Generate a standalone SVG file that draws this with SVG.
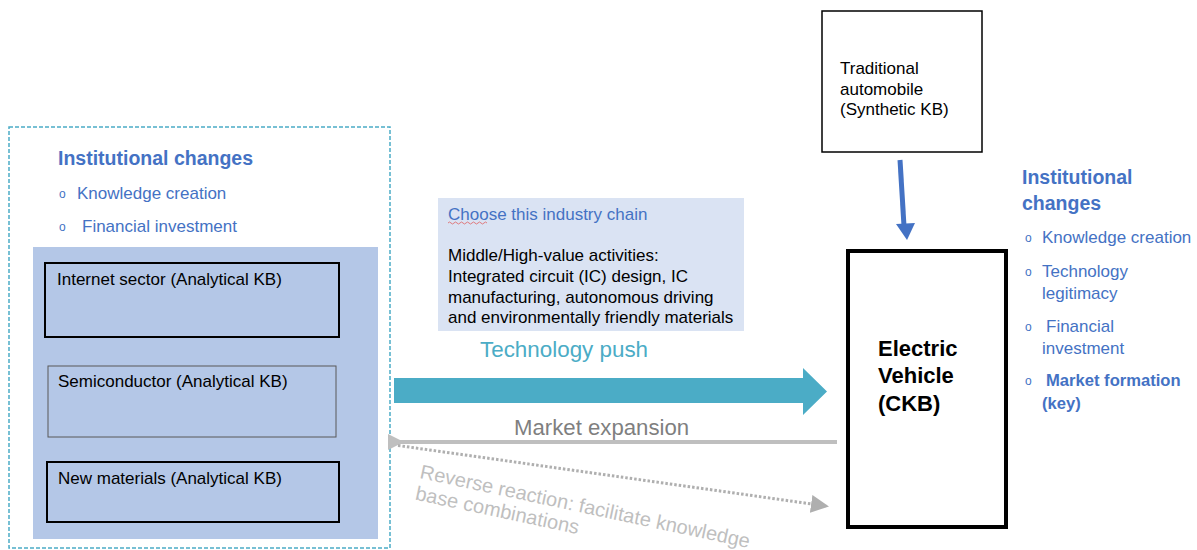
<svg xmlns="http://www.w3.org/2000/svg" width="1197" height="550" viewBox="0 0 1197 550">
<defs>
<style>
text{font-family:"Liberation Sans",Arial,sans-serif;}
.blue{fill:#4472C4;}
.h{font-size:19.5px;font-weight:bold;}
.b{font-size:17px;}
.t{font-size:17px;fill:#000;}
.bul{font-size:12px;fill:#4472C4;}
.box{fill:none;stroke:#000;stroke-width:2;}
</style>
<marker id="ahGray" markerWidth="6" markerHeight="6" refX="5" refY="3" orient="auto" markerUnits="strokeWidth">
<path d="M0,0 L6,3 L0,6 z" fill="#AFAFAF"/>
</marker>
<marker id="ahGrayL" markerWidth="4" markerHeight="4" refX="1" refY="2" orient="auto" markerUnits="strokeWidth">
<path d="M4,0 L0,2 L4,4 z" fill="#BFBFBF"/>
</marker>
</defs>
<rect width="1197" height="550" fill="#fff"/>

<g id="left-container">
<rect x="9" y="127" width="381" height="421" fill="none" stroke="#4BACC6" stroke-width="1.5" stroke-dasharray="4,2"/>
<text x="58" y="165" class="blue h">Institutional changes</text>
<text x="59" y="198" class="bul">o</text>
<text x="77" y="199" class="blue b">Knowledge creation</text>
<text x="59" y="231" class="bul">o</text>
<text x="82" y="232" class="blue b">Financial investment</text>
<rect x="33" y="247" width="345" height="292" fill="#B4C7E7"/>
</g>

<g id="internet">
<rect x="45" y="263" width="294" height="74" class="box"/>
<text x="57" y="285" class="t">Internet sector (Analytical KB)</text>
</g>
<g id="semiconductor">
<rect x="48" y="366" width="288" height="71" fill="none" stroke="#595959" stroke-width="1"/>
<text x="58" y="387" class="t">Semiconductor (Analytical KB)</text>
</g>
<g id="newmaterials">
<rect x="47" y="462" width="292" height="60" class="box"/>
<text x="58" y="484" class="t">New materials (Analytical KB)</text>
</g>

<g id="industry-chain">
<rect x="438" y="198" width="306" height="133" fill="#DAE3F3"/>
<text x="448" y="220" class="blue b">Choose this industry chain</text>
<path d="M448,223 q1.5,-2 3,0 t3,0 t3,0 t3,0 t3,0 t3,0 t3,0 t3,0 t3,0 t3,0 t3,0 t3,0 t3,0" fill="none" stroke="#E06060" stroke-width="0.8"/>
<text x="448" y="261" class="t">Middle/High-value activities:</text>
<text x="448" y="282" class="t">Integrated circuit (IC) design, IC</text>
<text x="448" y="303" class="t">manufacturing, autonomous driving</text>
<text x="448" y="323" class="t">and environmentally friendly materials</text>
</g>

<g id="traditional">
<rect x="822" y="11" width="160" height="141" fill="none" stroke="#000" stroke-width="1.5"/>
<text x="840" y="74" class="t">Traditional</text>
<text x="840" y="95" class="t">automobile</text>
<text x="840" y="115" class="t">(Synthetic KB)</text>
</g>

<g id="ev">
<rect x="848" y="251" width="158" height="276" fill="#fff" stroke="#000" stroke-width="4"/>
<text x="878" y="356" font-size="22" font-weight="bold" fill="#000">Electric</text>
<text x="878" y="383" font-size="22" font-weight="bold" fill="#000">Vehicle</text>
<text x="878" y="411" font-size="22" font-weight="bold" fill="#000">(CKB)</text>
</g>

<g id="right-institutional">
<text x="1022" y="184" class="blue h">Institutional</text>
<text x="1022" y="210" class="blue h">changes</text>
<text x="1025" y="242" class="bul">o</text>
<text x="1042" y="243" class="blue b">Knowledge creation</text>
<text x="1025" y="276" class="bul">o</text>
<text x="1042" y="277" class="blue b">Technology</text>
<text x="1042" y="299" class="blue b">legitimacy</text>
<text x="1025" y="331" class="bul">o</text>
<text x="1046" y="332" class="blue b">Financial</text>
<text x="1042" y="354" class="blue b">investment</text>
<text x="1025" y="385" class="bul">o</text>
<text x="1046" y="386" class="blue" font-size="16.6" font-weight="bold">Market formation</text>
<text x="1042" y="409" class="blue" font-size="16.6" font-weight="bold">(key)</text>
</g>

<g id="connectors">
<path d="M394,378 L803,378 L803,368 L827,391.5 L803,415 L803,403 L394,403 z" fill="#4BACC6"/>
<text x="480" y="357" font-size="22.4" fill="#4BACC6">Technology push</text>
<line x1="837" y1="442" x2="400" y2="442" stroke="#BFBFBF" stroke-width="4" marker-end="url(#ahGrayL)"/>
<text x="514" y="435" font-size="22.2" fill="#7F7F7F">Market expansion</text>
<line x1="398" y1="445.5" x2="826" y2="506" stroke="#AFAFAF" stroke-width="3" stroke-dasharray="2.5,2" marker-end="url(#ahGray)"/>
<text transform="translate(419,478) rotate(12)" font-size="20" fill="#BFBFBF"><tspan x="0" y="0">Reverse reaction: facilitate knowledge</tspan><tspan x="0" y="22">base combinations</tspan></text>
<line x1="900" y1="160" x2="904" y2="226" stroke="#4472C4" stroke-width="5"/>
<path d="M896,224 L915,223 L907,240 z" fill="#4472C4"/>
</g>
</svg>
